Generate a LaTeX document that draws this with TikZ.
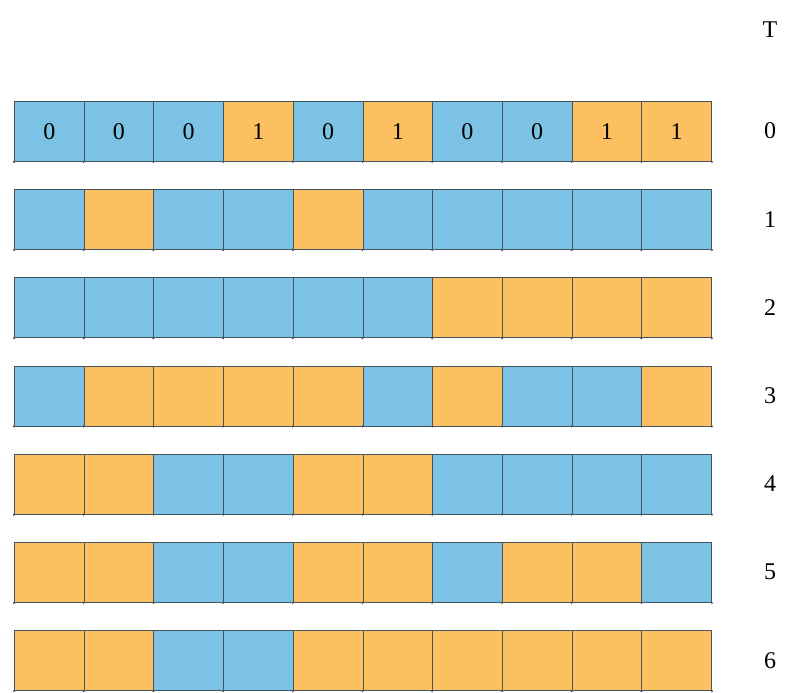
\documentclass[tikz,border=0pt]{standalone}
\usepackage{fontspec}
\setmainfont{Liberation Serif}
\definecolor{cblue}{RGB}{124,194,228}
\definecolor{corange}{RGB}{252,192,96}
\definecolor{cedge}{RGB}{70,84,96}
\begin{document}
\begin{tikzpicture}[x=1pt,y=-1pt,
  cellbox/.style={draw=cedge, line width=0.8pt, minimum width=69.7pt, minimum height=60pt, inner sep=0pt, anchor=north west},
  B/.style={cellbox, fill=cblue},
  O/.style={cellbox, fill=corange},
  lab/.style={font=\fontsize{24}{24}\selectfont, inner sep=0pt}]
\useasboundingbox (0,0) rectangle (787,693);
\node[lab] (T) at (770,30) {T};
\foreach \r/\pat in {0/{B,B,B,O,B,O,B,B,O,O},1/{B,O,B,B,O,B,B,B,B,B},2/{B,B,B,B,B,B,O,O,O,O},3/{B,O,O,O,O,B,O,B,B,O},4/{O,O,B,B,O,O,B,B,B,B},5/{O,O,B,B,O,O,B,O,O,B},6/{O,O,B,B,O,O,O,O,O,O}}{
  \pgfmathsetmacro{\ytop}{101+88.2*\r}
  \foreach \st [count=\k from 0] in \pat {
    \pgfmathsetmacro{\xl}{14+69.7*\k}
    \node[\st] (c\r-\k) at (\xl,\ytop) {};
    \fill[cedge] (c\r-\k.south west) circle (1.2pt);
  }
  \fill[cedge] (c\r-9.south east) circle (1.2pt);
  \node[lab] (r\r) at (770,\ytop+30) {\r};
}
\foreach \c/\v in {0/0,1/0,2/0,3/1,4/0,5/1,6/0,7/0,8/1,9/1}{
  \node[lab] (t\c) at (c0-\c.center) {\v};
}
\end{tikzpicture}
\end{document}
